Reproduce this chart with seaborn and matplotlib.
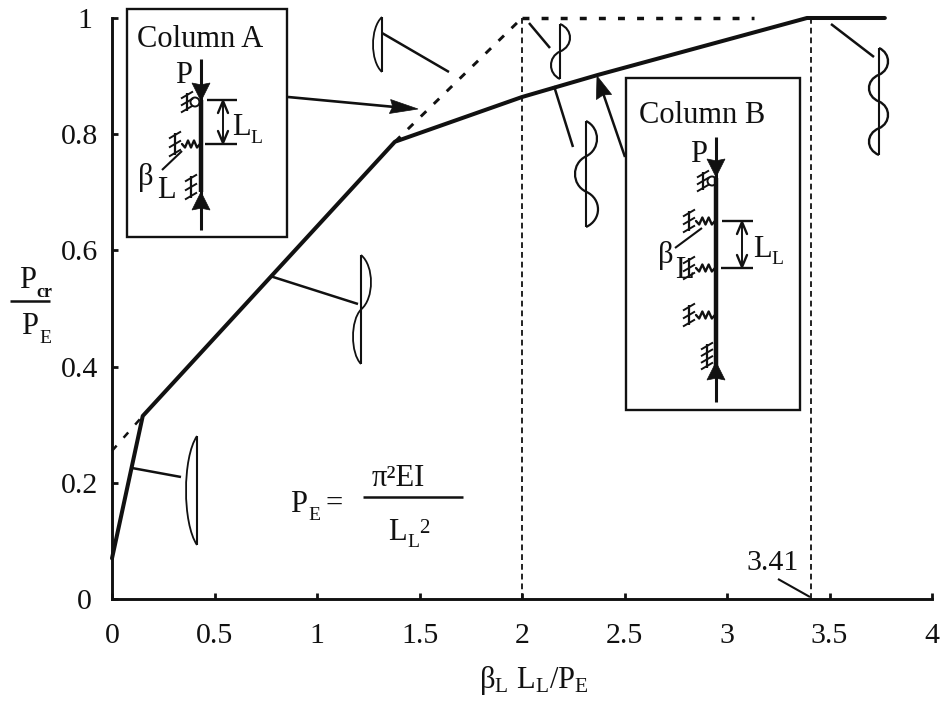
import matplotlib
matplotlib.use('Agg')
import matplotlib.pyplot as plt
import seaborn as sns
import pandas as pd
from matplotlib.path import Path
from matplotlib.patches import PathPatch, Polygon, Circle, Rectangle
from matplotlib.transforms import ScaledTranslation

INK = '#111111'
FONT = 'Liberation Serif'

# curve
curve_x = [0, 0.15, 1.38, 2.0, 2.37, 3.39, 3.77]
curve_y = [0.07, 0.315, 0.787, 0.864, 0.902, 1.0, 1.0]
dash_low_x = [0, 0.15]
dash_low_y = [0.255, 0.315]
dash_up_x = [1.38, 2.0]
dash_up_y = [0.787, 1.0]
dash_top_x = [2.0, 3.13]
dash_top_y = [1.0, 1.0]
limit_x = [2.0, 3.41]
limit_y = [0, 1]
x_ticks = [0, 0.5, 1, 1.5, 2, 2.5, 3, 3.5, 4]
x_labels = ['0', '0.5', '1', '1.5', '2', '2.5', '3', '3.5', '4']
y_ticks = [0, 0.2, 0.4, 0.6, 0.8, 1]
y_labels = ['0', '0.2', '0.4', '0.6', '0.8', '1']

sns.set_style('ticks')
plt.rcParams['font.family'] = [FONT, 'DejaVu Sans']
plt.rcParams['mathtext.fontset'] = 'custom'
plt.rcParams['mathtext.rm'] = FONT
plt.rcParams['mathtext.it'] = FONT
plt.rcParams['mathtext.bf'] = FONT

W, H = 941, 702
fig = plt.figure(figsize=(W / 100, H / 100), dpi=100)
ax = fig.add_axes([112 / W, 1 - 599 / H, 820 / W, 581 / H])


def draw_curve(xs, ys, **kw):
    df = pd.DataFrame({'x': xs, 'y': ys})
    sns.lineplot(data=df, x='x', y='y', sort=False, estimator=None, errorbar=None,
                 color=INK, ax=ax, clip_on=False, **kw)


draw_curve(curve_x, curve_y, linewidth=2.9)
draw_curve(dash_low_x, dash_low_y, linewidth=1.8, linestyle=(0, (2.8, 4.2)))
draw_curve(dash_up_x, dash_up_y, linewidth=2.1, linestyle=(0, (2.6, 3.6)))
draw_curve(dash_top_x, dash_top_y, linewidth=2.5, linestyle=(0, (2.0, 3.5)))
for lx in limit_x:
    draw_curve([lx, lx], limit_y, linewidth=1.3, linestyle=(0, (3.2, 2.2)))

ax.set_xlim(0, 4)
ax.set_ylim(0, 1)
ax.set_xticks(x_ticks, x_labels)
ax.set_yticks(y_ticks, y_labels)
ax.tick_params(direction='in', length=4, width=2.0, color=INK, labelcolor=INK, labelsize=21.5)
ax.tick_params(axis='x', pad=17)
ax.tick_params(axis='y', pad=10)
for lab in ax.get_yticklabels():
    if lab.get_text() in ('0', '1'):
        lab.set_transform(lab.get_transform() + ScaledTranslation(-6 / 100, 0, fig.dpi_scale_trans))
ax.set_xlabel(r'$\mathrm{\beta_L\ L_L/P_E}$', fontsize=22, color=INK, labelpad=11, x=0.515)
ax.set_ylabel('')
sns.despine(ax=ax)
for side in ['left', 'bottom']:
    ax.spines[side].set_linewidth(2.1)
    ax.spines[side].set_color(INK)

# the sketches are placed in picture pixels on a transparent layer
sk = fig.add_axes([0, 0, 1, 1], facecolor='none')
sk.set_xlim(0, W)
sk.set_ylim(H, 0)
sk.axis('off')


def seg(x0, y0, x1, y1, lw=1.8):
    sk.plot([x0, x1], [y0, y1], color=INK, lw=lw, solid_capstyle='butt')


def txt(x, y, s, size=22, **kw):
    sk.text(x, y, s, fontsize=size, color=INK, va='baseline', ha='left', **kw)


def head(tx, ty, bx, by, half=8):
    # barbed arrow head, tip at (tx, ty), back at (bx, by)
    dx, dy = tx - bx, ty - by
    n = (dx * dx + dy * dy) ** 0.5
    px, py = -dy / n * half, dx / n * half
    nx, ny = bx + dx * 0.1, by + dy * 0.1
    sk.add_patch(Polygon([(tx, ty), (bx + px, by + py), (nx, ny), (bx - px, by - py)], closed=True,
                         fc=INK, ec=INK, lw=0.5, zorder=4))


def wave(x, y0, y1, bulges, lw=1.5):
    # deflected column shape: straight axis plus rounded half waves
    seg(x, y0, x, y1, lw=1.5)
    h = (y1 - y0) / len(bulges)
    verts = [(x, y0)]
    codes = [Path.MOVETO]
    for i, b in enumerate(bulges):
        c = x + b * 4 / 3
        top = y0 + i * h
        verts += [(c, top + 0.2 * h), (c, top + 0.8 * h), (x, top + h)]
        codes += [Path.CURVE4, Path.CURVE4, Path.CURVE4]
    sk.add_patch(PathPatch(Path(verts, codes), fc='none', ec=INK, lw=lw))


def spring(x0, x1, y):
    n = 6
    xs = [x0 + (x1 - x0) * i / n for i in range(n + 1)]
    ys = [y + (0 if i in (0, n) else (3.5 if i % 2 else -3.5)) for i in range(n + 1)]
    sk.plot(xs, ys, color=INK, lw=1.7)


def ground(x, y, half=10, n=3):
    seg(x, y - half, x, y + half, lw=1.6)
    for i in range(n):
        yy = y - half + 2 + i * (2 * half - 4) / (n - 1)
        seg(x - 6, yy + 3.5, x + 6, yy - 3.5, lw=1.4)


def column(xc, top, thick_top, thick_bot, bottom, tip_down, tip_up):
    seg(xc, top, xc, bottom, lw=2.2)
    seg(xc, thick_top, xc, thick_bot, lw=3.2)
    head(xc, tip_down, xc, tip_down - 18, half=9)
    head(xc, tip_up, xc, tip_up + 18, half=9)


def dimension(x, y0, y1, x_left0, x_left1, x_right):
    seg(x_left0, y0, x_right, y0, lw=1.7)
    seg(x_left1, y1, x_right, y1, lw=1.7)
    seg(x, y0 + 3, x, y1 - 3, lw=1.4)
    sk.plot([x - 5, x, x + 5], [y0 + 13, y0 + 1, y0 + 13], color=INK, lw=1.7)
    sk.plot([x - 5, x, x + 5], [y1 - 13, y1 - 1, y1 - 13], color=INK, lw=1.7)


# y axis label
txt(19, 288, 'P')
txt(36, 297, 'cr', size=13, fontweight='bold')
seg(10, 301, 50, 301, lw=1.8)
txt(21, 334, 'P')
txt(39, 343, 'E', size=14)

# Column A box
sk.add_patch(Rectangle((127, 9), 160, 228, fc='white', ec=INK, lw=1.7, zorder=0.5))
txt(137, 47, 'Column A', size=22)
column(201, 59, 100, 192, 230, 101, 192)
txt(175, 83, 'P')
sk.add_patch(Circle((195, 102), 4.5, fc='white', ec=INK, lw=1.4))
ground(187, 102, half=9)
spring(200, 182, 144)
ground(175, 144, half=11)
ground(191, 187, half=11)
dimension(223, 100, 144, 207, 205, 237)
txt(232, 135, 'L')
txt(250, 143, 'L', size=14)
seg(162, 170, 182, 151, lw=1.5)
txt(138, 185, 'β')
txt(157, 198, 'L')

# Column B box
sk.add_patch(Rectangle((626, 78), 174, 332, fc='white', ec=INK, lw=1.7, zorder=0.5))
txt(639, 123, 'Column B', size=22)
column(716, 137, 178, 378, 402, 177, 362)
txt(690, 162, 'P')
sk.add_patch(Circle((712, 181), 4.5, fc='white', ec=INK, lw=1.4))
ground(703, 181, half=9)
for sy in [221, 268, 315]:
    spring(715, 696, sy)
    ground(689, sy, half=10)
ground(707, 356, half=12, n=4)
dimension(742, 221, 268, 722, 721, 753)
txt(753, 257, 'L')
txt(771, 264, 'L', size=14)
seg(675, 248, 702, 228, lw=1.5)
txt(658, 263, 'β')
txt(675, 278, 'L')

# deflected shapes and their leaders
wave(382, 17, 72, [-9], lw=1.3)
seg(382, 33, 449, 72)
wave(560, 24, 79, [10, -9], lw=1.5)
seg(529, 23, 550, 48)
wave(586, 121, 227, [11, -11, 12], lw=1.6)
seg(554, 86, 573, 147)
wave(879, 48, 155, [9, -10, 9, -10], lw=1.7)
seg(831, 24, 874, 57)
wave(361, 255, 364, [10, -8], lw=1.3)
seg(270, 276, 358, 304)
wave(197, 436, 545, [-11], lw=1.3)
seg(132, 468, 181, 477)

# pointers from the boxes
seg(288, 97, 395, 107, lw=1.9)
head(418, 109, 390, 106.5, half=7)
seg(625, 157, 603, 93, lw=1.8)
head(597, 76, 604, 97, half=8)

# formula
txt(290, 512, 'P')
txt(308, 520, 'E', size=14)
txt(326, 512, '=')
txt(372, 486, 'π²EI', size=22)
seg(363, 497, 463, 497, lw=1.8)
txt(388, 540, 'L')
txt(407, 547, 'L', size=14)
txt(419, 533, '2', size=15)

# limit marker
txt(746, 570, '3.41', size=21.5)
seg(778, 579, 810, 597, lw=1.5)

fig.savefig('out.png', dpi=100)
